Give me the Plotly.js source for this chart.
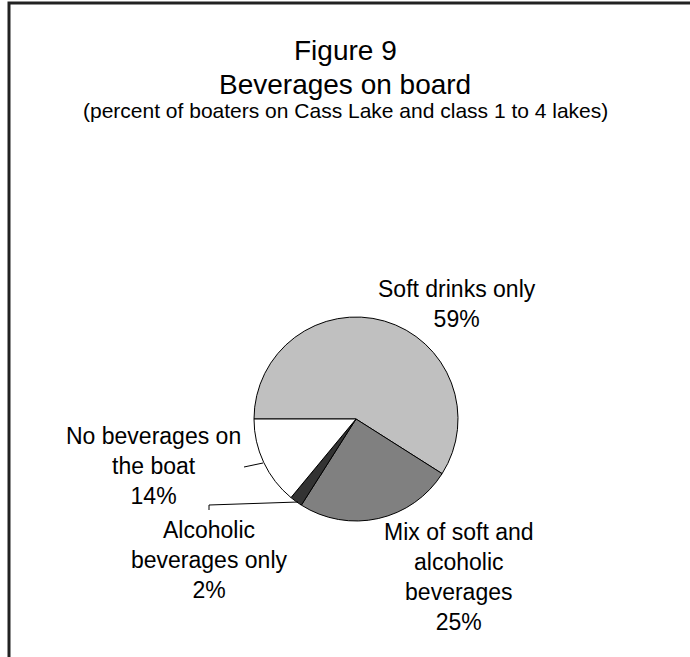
<!DOCTYPE html>
<html>
<head>
<meta charset="utf-8">
<script src="https://cdn.plot.ly/plotly-3.0.1.min.js"></script>
<style>
  html, body { margin: 0; padding: 0; background: #fff; }
  #chart { width: 690px; height: 657px; }
</style>
</head>
<body>
<div id="chart"></div>
<script>
// ---- data ----
const categories = ["Soft drinks only", "Mix of soft and alcoholic beverages", "Alcoholic beverages only", "No beverages on the boat"];
const labelLines = ["Soft drinks only", "Mix of soft and<br>alcoholic<br>beverages", "Alcoholic<br>beverages only", "No beverages on<br>the boat"];
const percents = [59, 25, 2, 14];

// ---- styles ----
const sliceColors = ["#c0c0c0", "#808080", "#333333", "#ffffff"];
const W = 690, H = 657;
const px = x => x / W;
const py = y => 1 - y / H;
const cx = 356, cy = 419, r = 102;
const labelPos = [[457, 304], [459, 577], [209, 560], [153, 466]];
const FONT = "Liberation Sans, Arial, sans-serif";

const trace = {
  type: "pie",
  labels: categories,
  values: percents,
  sort: false,
  direction: "clockwise",
  rotation: 270,
  textinfo: "none",
  hoverinfo: "label+percent",
  marker: { colors: sliceColors, line: { color: "#000", width: 1 } },
  domain: { x: [px(cx - r), px(cx + r)], y: [py(cy + r), py(cy - r)] },
  showlegend: false
};

const annotations = [
  { text: "Figure 9", x: px(345), y: py(50), font: { size: 28 } },
  { text: "Beverages on board", x: px(345), y: py(84), font: { size: 28 } },
  { text: "(percent of boaters on Cass Lake and class 1 to 4 lakes)", x: px(345), y: py(110), font: { size: 21 } }
];
labelLines.forEach((t, i) => {
  annotations.push({
    text: t + "<br>" + percents[i] + "%",
    x: px(labelPos[i][0]), y: py(labelPos[i][1]),
    font: { size: 23 }
  });
});
annotations.forEach(a => {
  a.xref = "paper"; a.yref = "paper"; a.showarrow = false;
  a.xanchor = "center"; a.yanchor = "middle"; a.align = "center";
  a.font = Object.assign({ family: FONT, color: "#000" }, a.font);
});

const shapes = [
  { type: "rect", xref: "paper", yref: "paper", x0: px(9), y0: py(700), x1: px(760), y1: py(3),
    line: { color: "#222", width: 3 }, fillcolor: "rgba(0,0,0,0)", layer: "above" },
  { type: "path", xref: "paper", yref: "paper",
    path: `M ${px(244)} ${py(467)} L ${px(263)} ${py(463)}`, line: { color: "#000", width: 1 } },
  { type: "path", xref: "paper", yref: "paper",
    path: `M ${px(209)} ${py(510)} L ${px(209)} ${py(505)} L ${px(298)} ${py(502)}`, line: { color: "#000", width: 1 } }
];

const layout = {
  width: W, height: H,
  margin: { l: 0, r: 0, t: 0, b: 0 },
  paper_bgcolor: "#fff",
  font: { family: FONT, color: "#000" },
  annotations: annotations,
  shapes: shapes,
  showlegend: false
};

Plotly.newPlot("chart", [trace], layout, { displayModeBar: false, staticPlot: true });
</script>
</body>
</html>
